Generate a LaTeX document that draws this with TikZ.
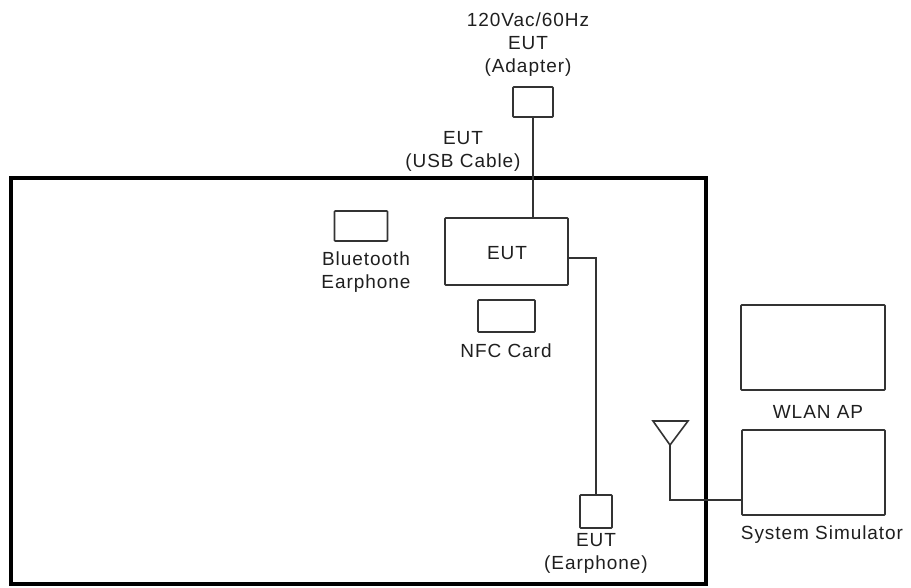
\documentclass[tikz,border=0pt]{standalone}
\usepackage{fontspec}
\setmainfont{Liberation Sans}[LetterSpace=5]
\begin{document}
\begin{tikzpicture}[x=1pt,y=-1pt,
  box/.style={draw=black!80,line width=1.6pt,inner sep=0pt,rounded corners=0.8pt},
  wire/.style={draw=black!80,line width=1.6pt},
  lbl/.style={inner sep=0pt,align=center,text=black!88,font=\fontsize{19}{23}\selectfont}]
\useasboundingbox (0,0) rectangle (911,587);
% test area
\draw[line width=3.5pt] (11,178) rectangle (706,584);
% boxes
\node[box,minimum width=40pt,minimum height=30pt] (adapter) at (533,102) {};
\node[box,minimum width=123pt,minimum height=67pt] (eut) at (506.5,251.5) {};
\node[lbl] (eutlbl) at (507,253) {EUT};
\node[box,minimum width=53pt,minimum height=30pt] (bt) at (361,226) {};
\node[box,minimum width=57pt,minimum height=32pt] (nfc) at (506.5,316) {};
\node[box,minimum width=32pt,minimum height=33pt] (ear) at (596,511.5) {};
\node[box,minimum width=144pt,minimum height=85pt] (wlan) at (813,347.5) {};
\node[box,minimum width=143pt,minimum height=85pt] (sim) at (813.5,472.5) {};
% antenna
\coordinate (ant) at (670,445);
\draw[wire,line join=miter] (653,421) -- (688,421) -- (ant) -- cycle;
% labels
\node[lbl] (adlbl) at (528,45) {120Vac/60Hz\\EUT\\(Adapter)};
\node[lbl] (usblbl) at (463,151) {EUT\\(USB Cable)};
\node[lbl] (btlbl) at (366,272) {Bluetooth\\Earphone};
\node[lbl] (nfclbl) at (506,351) {NFC Card};
\node[lbl] (earlbl) at (596,553) {EUT\\(Earphone)};
\node[lbl] (wlanlbl) at (818,412) {WLAN AP};
\node[lbl] (simlbl) at (822,535) {System Simulator};
% connectors
\draw[wire] (adapter.south) -- (adapter.south |- eut.north);
\coordinate (eutr) at (eut.east |- 0,258);
\draw[wire] (eutr) -| (ear.north);
\draw[wire] (ant) |- (sim.west |- 0,500);
\end{tikzpicture}
\end{document}
